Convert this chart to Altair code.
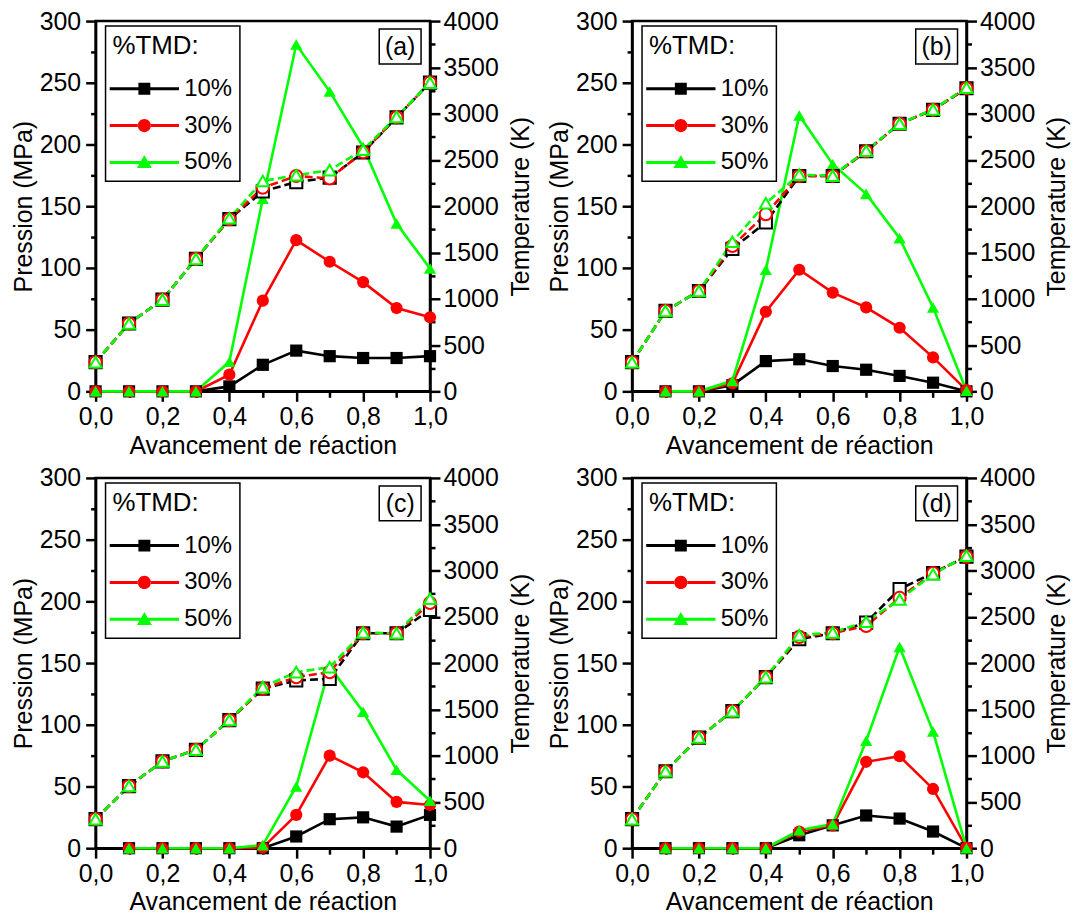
import altair as alt
import pandas as pd

FONT = "Liberation Sans"
FS = 25

# ---------------- data ----------------
x_vals = [0.0, 0.1, 0.2, 0.3, 0.4, 0.5, 0.6, 0.7, 0.8, 0.9, 1.0]
series = ["10%", "30%", "50%"]
colors = ["#000000", "#ff0000", "#00ff00"]
shapes = ["square", "circle", "triangle-up"]
panel_labels = ["(a)", "(b)", "(c)", "(d)"]

x_ticks = [0.0, 0.1, 0.2, 0.3, 0.4, 0.5, 0.6, 0.7, 0.8, 0.9, 1.0]
p_ticks = [0, 25, 50, 75, 100, 125, 150, 175, 200, 225, 250, 275, 300]
t_ticks = [0, 250, 500, 750, 1000, 1250, 1500, 1750, 2000, 2250, 2500,
           2750, 3000, 3250, 3500, 3750, 4000]

# Pressure (MPa) - solid lines, filled markers
P_a_10 = [0, 0, 0, 0, 4, 21.5, 33, 28.5, 27, 27, 28.5]
P_a_30 = [0, 0, 0, 0, 13.5, 73.5, 122.5, 105, 88.5, 67.5, 60]
P_a_50 = [0, 0, 0, 0, 24, 156, 281, 243, 198, 136, 99.5]

P_b_10 = [None, 0, 0, 5, 24.5, 26, 20.5, 17.5, 12.5, 7, 0]
P_b_30 = [None, 0, 0, 6.5, 64.5, 98.5, 80, 68, 51.5, 27.5, 1]
P_b_50 = [None, 0, 0, 8.5, 98.5, 223.5, 184, 160, 124, 68, 0.5]

P_c_10 = [None, 0, 0, 0, 0, 0, 9.5, 23.5, 25, 17.5, 27]
P_c_30 = [None, 0, 0, 0, 0, 0.5, 27, 75, 61.5, 37.5, 35]
P_c_50 = [None, 0, 0, 0, 0, 2.5, 50, 147, 110.5, 63.5, 38.5]

P_d_10 = [None, 0, 0, 0, 0, 10.5, 18.5, 26.5, 24, 13.5, 0]
P_d_30 = [None, 0, 0, 0, 0, 13.5, 18.5, 70, 74.5, 48, 0.5]
P_d_50 = [None, 0, 0, 0, 0, 14.5, 19.5, 87, 163, 94.5, 0]

# Temperature (K) - dashed lines, open markers
T_a_10 = [315, 733, 991, 1431, 1860, 2160, 2261, 2308, 2580, 2960, 3335]
T_a_30 = [315, 733, 991, 1431, 1860, 2200, 2326, 2300, 2585, 2960, 3335]
T_a_50 = [315, 733, 991, 1431, 1870, 2272, 2335, 2390, 2610, 2965, 3335]

T_b_10 = [315, 869, 1084, 1540, 1825, 2326, 2326, 2594, 2891, 3041, 3274]
T_b_30 = [315, 869, 1084, 1570, 1914, 2326, 2326, 2594, 2891, 3041, 3274]
T_b_50 = [315, 869, 1084, 1617, 2032, 2340, 2330, 2600, 2891, 3045, 3280]

T_c_10 = [314, 671, 938, 1063, 1384, 1723, 1812, 1830, 2322, 2322, 2575]
T_c_30 = [314, 671, 938, 1063, 1384, 1723, 1848, 1902, 2322, 2322, 2650]
T_c_50 = [314, 671, 938, 1063, 1384, 1740, 1902, 1955, 2330, 2322, 2694]

T_d_10 = [314, 831, 1195, 1480, 1848, 2258, 2322, 2437, 2800, 2972, 3150]
T_d_30 = [314, 831, 1195, 1480, 1848, 2283, 2322, 2401, 2704, 2972, 3150]
T_d_50 = [314, 831, 1195, 1480, 1848, 2301, 2330, 2447, 2686, 2960, 3160]

# legend symbols: line with marker (custom SVG paths)
legend_paths = [
    "M-5.8,-0.25L-1,-0.25L-1,0.25L-5.8,0.25Z M1,-0.25L5.8,-0.25L5.8,0.25L1,0.25Z M-1,-1L1,-1L1,1L-1,1Z",
    "M-5.8,-0.25L-1.05,-0.25L-1.05,0.25L-5.8,0.25Z M1.05,-0.25L5.8,-0.25L5.8,0.25L1.05,0.25Z "
    "M-1.1,0A1.1,1.1 0 1,0 1.1,0A1.1,1.1 0 1,0 -1.1,0Z",
    "M-5.8,-0.25L-0.6,-0.25L-0.6,0.25L-5.8,0.25Z M0.6,-0.25L5.8,-0.25L5.8,0.25L0.6,0.25Z "
    "M0,-1.2L1.25,0.95L-1.25,0.95Z",
]

W, H = 336, 372


def major_test(step):
    return f"abs(datum.value / {step} - round(datum.value / {step})) < 1e-6"


x_axis = alt.Axis(
    values=x_ticks,
    title="Avancement de réaction",
    labelExpr="round(datum.value*10) % 2 === 0 ? replace(format(datum.value, '.1f'), '.', ',') : ''",
    tickSize={"condition": {"test": "round(datum.value*10) % 2 === 0", "value": 10}, "value": 6},
    labelPadding=3,
    titlePadding=4,
    labelFlush=False,
    labelOverlap=False,
)

p_axis = alt.Axis(
    values=p_ticks,
    title="Pression (MPa)",
    labelExpr=f"{major_test(50)} ? format(datum.value, 'd') : ''",
    tickSize={"condition": {"test": major_test(50), "value": 10}, "value": 5},
    labelPadding=5,
    titlePadding=3,
    labelFlush=False,
    labelOverlap=False,
)

t_axis = alt.Axis(
    values=t_ticks,
    title="Temperature (K)",
    orient="right",
    labelExpr=f"{major_test(500)} ? format(datum.value, 'd') : ''",
    tickSize={"condition": {"test": major_test(500), "value": 10}, "value": 5},
    labelPadding=3,
    titleAngle=270,
    titleBaseline="top",
    titlePadding=10,
    labelFlush=False,
    labelOverlap=False,
)

color_scale = alt.Scale(domain=series, range=colors)
shape_scale = alt.Scale(domain=series, range=shapes)


def make_panel(label, P, T):
    rows = []
    for s, pser, tser in zip(series, P, T):
        for x, p, t in zip(x_vals, pser, tser):
            rows.append({"x": x, "P": p, "T": t, "TMD": s})
    df = pd.DataFrame(rows)
    base = alt.Chart(df)
    X = alt.X("x:Q", scale=alt.Scale(domain=[0, 1], nice=False, zero=False), axis=x_axis)
    C = alt.Color("TMD:N", scale=color_scale, legend=None)
    S = alt.Shape("TMD:N", scale=shape_scale, legend=None)

    yP = alt.Y("P:Q", scale=alt.Scale(domain=[0, 300], nice=False), axis=p_axis)
    pb = base.transform_filter("isValid(datum.P)")
    press = alt.layer(
        pb.mark_line(strokeWidth=2.6).encode(x=X, y=yP, color=C),
        pb.mark_point(filled=True, size=150, opacity=1).encode(x=X, y=yP, color=C, shape=S),
    )

    yT = alt.Y("T:Q", scale=alt.Scale(domain=[0, 4000], nice=False), axis=t_axis)
    temp = alt.layer(
        base.mark_line(strokeWidth=2.6, strokeDash=[8, 4]).encode(x=X, y=yT, color=C),
        base.mark_point(filled=False, fill="white", strokeWidth=2, size=150, opacity=1).encode(
            x=X, y=yT, color=C, shape=S
        ),
    )

    leg_props = dict(
        title="%TMD:",
        orient="none",
        legendX=10,
        legendY=5,
        symbolSize=144,
        symbolOffset=20,
        labelOffset=28,
        rowPadding=13,
        titlePadding=18,
        symbolStrokeWidth=0,
    )
    legend_layer = base.transform_filter("false").mark_point(filled=True, opacity=1).encode(
        shape=alt.Shape("TMD:N", scale=alt.Scale(domain=series, range=legend_paths),
                        legend=alt.Legend(**leg_props)),
        fill=alt.Fill("TMD:N", scale=alt.Scale(domain=series, range=colors),
                      legend=alt.Legend(**leg_props)),
    )

    lab_df = alt.Data(values=[{"lab": label}])
    lab_box = alt.Chart(lab_df).mark_rect(fill="white", stroke="black", strokeWidth=1.5).encode(
        x=alt.value(W - 51), x2=alt.value(W - 9), y=alt.value(8), y2=alt.value(43)
    )
    lab_txt = alt.Chart(lab_df).mark_text(font=FONT, fontSize=FS, baseline="middle", align="center").encode(
        x=alt.value(W - 30), y=alt.value(26), text="lab:N"
    )

    return (
        alt.layer(press, temp, legend_layer, lab_box, lab_txt)
        .resolve_scale(y="independent", shape="independent", fill="independent")
        .properties(width=W, height=H)
    )


pa = make_panel(panel_labels[0], [P_a_10, P_a_30, P_a_50], [T_a_10, T_a_30, T_a_50])
pb_ = make_panel(panel_labels[1], [P_b_10, P_b_30, P_b_50], [T_b_10, T_b_30, T_b_50])
pc = make_panel(panel_labels[2], [P_c_10, P_c_30, P_c_50], [T_c_10, T_c_30, T_c_50])
pd_ = make_panel(panel_labels[3], [P_d_10, P_d_30, P_d_50], [T_d_10, T_d_30, T_d_50])

chart = (
    alt.vconcat(
        alt.hconcat(pa, pb_, spacing=12),
        alt.hconcat(pc, pd_, spacing=12),
        spacing=4,
    )
    .properties(padding={"left": 2, "top": -3, "right": 0, "bottom": 0})
    .configure(background="white")
    .configure_view(stroke="black", strokeWidth=2.5)
    .configure_axis(
        grid=False,
        domainColor="black",
        domainWidth=2.5,
        tickColor="black",
        tickWidth=2.5,
        labelFont=FONT,
        labelFontSize=FS,
        labelColor="black",
        titleFont=FONT,
        titleFontSize=FS,
        titleFontWeight="normal",
        titleColor="black",
    )
    .configure_legend(
        strokeColor="black",
        strokeWidth=1.5,
        fillColor="white",
        padding=7,
        titleFont=FONT,
        titleFontSize=26,
        titleFontWeight="normal",
        titleColor="black",
        labelFont=FONT,
        labelFontSize=24,
        labelColor="black",
    )
)

chart.save("out.html", embed_options={"renderer": "svg", "actions": False})
